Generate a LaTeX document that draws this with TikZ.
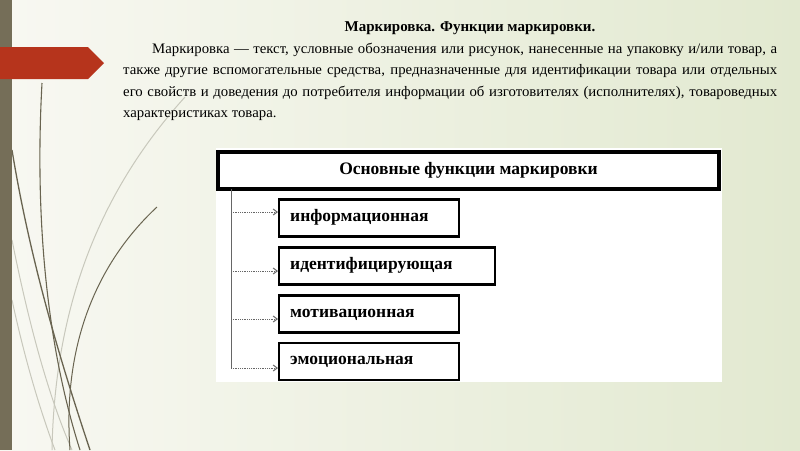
\documentclass[tikz,border=0pt]{standalone}
\usepackage{fontspec}
\setmainfont{Liberation Serif}
\newfontfamily\parafont[FakeStretch=1.02]{Liberation Serif}
\usetikzlibrary{arrows.meta}
\definecolor{bgL}{RGB}{248,248,242}
\definecolor{bgR}{RGB}{226,233,208}
\definecolor{barc}{RGB}{117,110,88}
\definecolor{tagc}{RGB}{182,52,28}
\definecolor{curvec}{RGB}{105,100,80}
\definecolor{curvel}{RGB}{200,200,188}
\tikzset{
  fbox/.style={draw=black, line width=2.4pt, fill=white, minimum height=37pt, inner xsep=11pt, anchor=west, align=left, font=\fontsize{17.5}{19}\selectfont\bfseries, text height=9pt, text depth=3pt},
  hbox/.style={draw=black, line width=3.2pt, fill=white, minimum height=37pt, minimum width=501pt, font=\fontsize{17.5}{19}\selectfont\bfseries},
  pline/.style={anchor=base west, inner sep=0pt, font=\parafont\fontsize{14.5}{17}\selectfont},
  conn/.style={draw=gray!80!black, line width=0.7pt},
  arr/.style={draw=gray!80!black, line width=0.8pt, densely dotted, -{Straight Barb[length=4pt,width=6pt,line width=1pt]}},
  deco/.style={curvec, line width=1.3pt},
  decol/.style={curvel, line width=1pt}
}
\begin{document}
\begin{tikzpicture}[x=1pt,y=-1pt]
\useasboundingbox (0,0) rectangle (800,450);
% background
\shade[left color=bgL, right color=bgR] (0,0) rectangle (800,450);
% decorative curves
\draw[decol] (185,97) .. controls (110,180) and (55,290) .. (52,450);
\draw[decol] (12,240) .. controls (30,330) and (50,400) .. (72,450);
\draw[decol] (12,300) .. controls (25,360) and (40,410) .. (55,450);
\draw[deco] (12,150) .. controls (30,260) and (60,360) .. (90,450);
\draw[deco, line width=1.1pt] (42,83) .. controls (35,210) and (45,340) .. (80,450);
\draw[deco, line width=1pt] (157,207) .. controls (100,260) and (62,340) .. (70,450);
% left bar and tag
\fill[barc] (0,0) rectangle (12,450);
\fill[tagc] (0,47) -- (88,47) -- (104,63) -- (88,79) -- (0,79) -- cycle;
% title and paragraph
\node[font=\fontsize{15}{17}\selectfont\bfseries, anchor=center] (title) at (470,28) {Маркировка. Функции маркировки.};
\node[pline] (l1) at (152,53) {\makebox[625pt][s]{Маркировка — текст, условные обозначения или рисунок, нанесенные на упаковку и/или товар, а}};
\node[pline] (l2) at (123,74.5) {\makebox[654pt][s]{также другие вспомогательные средства, предназначенные для идентификации товара или отдельных}};
\node[pline] (l3) at (123,96) {\makebox[654pt][s]{его свойств и доведения до потребителя информации об изготовителях (исполнителях), товароведных}};
\node[pline] (l4) at (123,117.5) {характеристиках товара.};
% diagram panel
\fill[white] (216,148) rectangle (722,382);
\node[hbox] (head) at (468.5,170.5) {Основные функции маркировки};
\node[fbox, text width=158pt] (b1) at (278,218) {информационная};
\node[fbox, text width=194pt] (b2) at (278,266) {идентифицирующая};
\node[fbox, text width=158pt] (b3) at (278,314) {мотивационная};
\node[fbox, text width=158pt] (b4) at (278,361.5) {эмоциональная};
\coordinate (top) at (231,189);
\coordinate (bot) at (231,368);
\draw[conn] (top) -- (bot);
\coordinate (a1) at (231,212);
\coordinate (a2) at (231,271);
\coordinate (a3) at (231,319);
\coordinate (a4) at (231,368);
\draw[arr] (a1) -- (a1 -| b1.west);
\draw[arr] (a2) -- (a2 -| b2.west);
\draw[arr] (a3) -- (a3 -| b3.west);
\draw[arr] (a4) -- (a4 -| b4.west);
\end{tikzpicture}
\end{document}
